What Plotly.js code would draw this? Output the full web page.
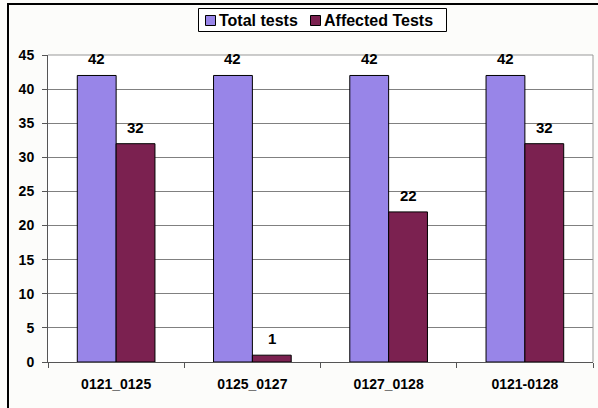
<!DOCTYPE html>
<html>
<head>
<script src="https://cdn.plot.ly/plotly-3.0.1.min.js"></script>
<style>
body{margin:0;background:#fcfcfa;}
#chart{width:598px;height:408px;}
</style>
</head>
<body>
<div id="chart"></div>
<script>
var categories = ['0121_0125', '0125_0127', '0127_0128', '0121-0128'];
var totalTests = [42, 42, 42, 42];
var affectedTests = [32, 1, 22, 32];
var seriesNames = ['Total tests', 'Affected Tests'];
var seriesColors = ['#9885E8', '#7B2150'];
var yTicks = [0, 5, 10, 15, 20, 25, 30, 35, 40, 45];

var fontFam = '"Liberation Sans", Arial, sans-serif';
var W = 598, H = 408;
var plotL = 48, plotR = 593, plotT = 55, plotB = 362;
var bargap = 0.43;
function px(x){return (x - plotL)/(plotR - plotL);}
function py(y){return (plotB - y)/(plotB - plotT);}

var seriesVals = [totalTests, affectedTests];
var data = seriesVals.map(function(vals, i){
  return {
    type: 'bar', name: seriesNames[i], x: categories, y: vals,
    marker: {color: seriesColors[i], line: {color: '#000', width: 1}},
    showlegend: false
  };
});

// value labels (via the axes' own scales; shifted to the bar's slot in the group)
var catW = (plotR - plotL) / categories.length;
var barW = catW * (1 - bargap) / seriesVals.length;
var annotations = [];
seriesVals.forEach(function(vals, i){
  var shift = (i - (seriesVals.length - 1) / 2) * barW;
  vals.forEach(function(v, j){
    annotations.push({
      xref: 'x', yref: 'y', x: categories[j], y: v, text: String(v),
      showarrow: false, xanchor: 'center', yanchor: 'bottom',
      xshift: shift, yshift: 6,
      font: {family: fontFam, size: 15, color: '#000', weight: 'bold'}
    });
  });
});

// legend box
var legItems = [{sq: 205, tx: 217}, {sq: 310, tx: 322}];
var shapes = [
  {type: 'line', xref: 'paper', yref: 'paper', x0: 0, x1: 1, y0: 1, y1: 1, line: {color: '#999', width: 1}},
  {type: 'line', xref: 'paper', yref: 'paper', x0: 1, x1: 1, y0: 0, y1: 1, line: {color: '#999', width: 1}},
  {type: 'line', xref: 'paper', yref: 'paper', x0: px(8), x1: px(8), y0: py(3), y1: py(420), line: {color: '#000', width: 2}},
  {type: 'line', xref: 'paper', yref: 'paper', x0: px(7), x1: px(610), y0: py(4), y1: py(4), line: {color: '#000', width: 2}},
  {type: 'rect', xref: 'paper', yref: 'paper', x0: px(198.5), x1: px(446.5), y0: py(31.5), y1: py(8.5), fillcolor: '#ffffff', line: {color: '#000', width: 1}}
];
legItems.forEach(function(it, i){
  shapes.push({type: 'rect', xref: 'paper', yref: 'paper', x0: px(it.sq + 0.5), x1: px(it.sq + 10.5), y0: py(25.5), y1: py(15.5),
    fillcolor: seriesColors[i], line: {color: '#000', width: 1}});
  annotations.push({xref: 'paper', yref: 'paper', x: px(it.tx), y: py(20.5), xanchor: 'left', yanchor: 'middle',
    text: seriesNames[i], showarrow: false,
    font: {family: fontFam, size: 16, color: '#000', weight: 'bold'}});
});

var layout = {
  width: W, height: H,
  margin: {l: plotL, r: W - plotR, t: plotT, b: H - plotB},
  paper_bgcolor: '#fcfcfa', plot_bgcolor: '#ffffff',
  font: {family: fontFam, color: '#000', size: 14, weight: 'bold'},
  barmode: 'group', bargap: bargap, bargroupgap: 0,
  showlegend: false,
  xaxis: {
    type: 'category', showline: true, linecolor: '#555', linewidth: 1,
    ticks: 'outside', tickson: 'boundaries', ticklen: 5, tickcolor: '#555',
    ticklabelstandoff: 9,
    tickfont: {family: fontFam, size: 14, color: '#000', weight: 'bold'},
    showgrid: false
  },
  yaxis: {
    range: [0, 45], tickvals: yTicks, ticktext: yTicks.map(String),
    showline: true, linecolor: '#555', linewidth: 1,
    ticks: 'outside', ticklen: 5, tickcolor: '#555',
    ticklabelstandoff: 5,
    tickfont: {family: fontFam, size: 14, color: '#000', weight: 'bold'},
    showgrid: true, gridcolor: '#808080', gridwidth: 1, zeroline: false
  },
  shapes: shapes,
  annotations: annotations
};
Plotly.newPlot('chart', data, layout, {displayModeBar: false, staticPlot: true});
</script>
</body>
</html>
